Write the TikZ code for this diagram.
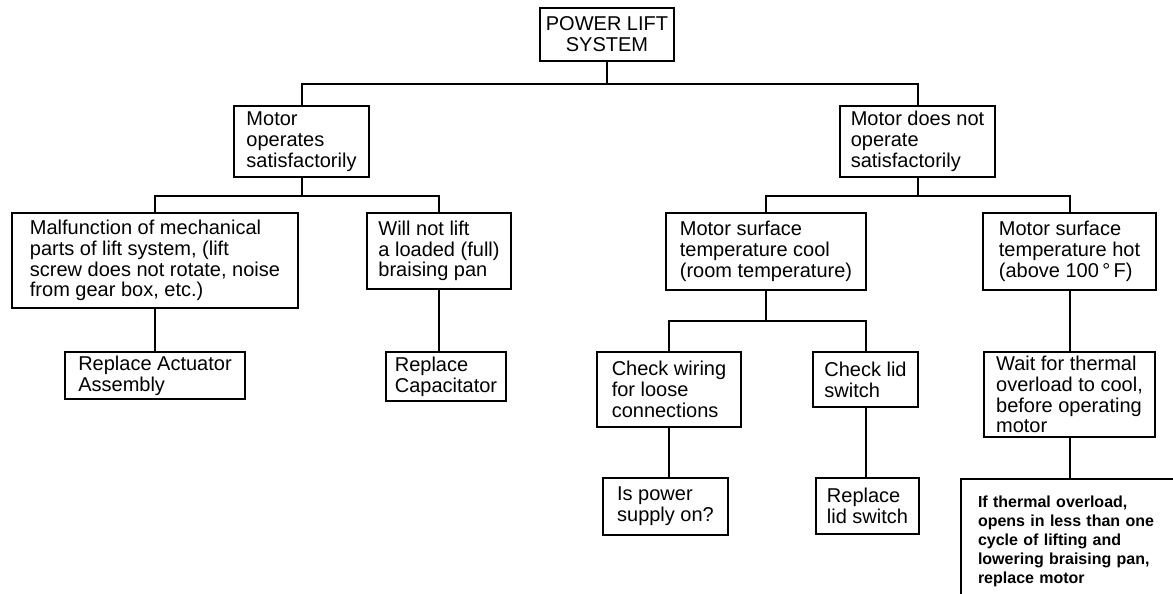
\documentclass[tikz,border=0pt]{standalone}
\usepackage{fontspec}
\setmainfont{Liberation Sans}
\begin{document}
\begin{tikzpicture}[x=1pt,y=-1pt,
  box/.style={draw,line width=2pt,align=left,inner sep=0pt,
    font=\fontsize{20}{20.8}\selectfont},
  note/.style={draw,line width=2pt,align=left,inner xsep=17pt,inner ysep=0pt,
    font=\fontsize{16}{19}\selectfont\bfseries},
  wire/.style={line width=2pt}]
% Page
\useasboundingbox (0,0) rectangle (1173,594);
\fill[white] (0,0) rectangle (1173,594);
\clip (0,0) rectangle (1173,594);

% Top level
\node[box,align=center,minimum width=134,minimum height=53] (sys) at (607,34.5) {POWER LIFT\\SYSTEM};
\node[box,minimum width=135,minimum height=71] (mok) at (301.5,141.5) {Motor\\operates\\satisfactorily};
\node[box,minimum width=155,minimum height=71] (mnok) at (917.5,141.5) {Motor does not\\operate\\satisfactorily};

% Second level
\node[box,minimum width=286,minimum height=95] (mech) at (155,260.5) {Malfunction of mechanical\\parts of lift system, (lift\\screw does not rotate, noise\\from gear box, etc.)};
\node[box,minimum width=144,minimum height=76] (nolift) at (439,251) {Will not lift\\a loaded (full)\\braising pan};
\node[box,minimum width=200,minimum height=77] (cool) at (766,251.5) {Motor surface\\temperature cool\\(room temperature)};
\node[box,minimum width=173,minimum height=77] (hot) at (1069.5,251.5) {Motor surface\\temperature hot\\(above 100\,°\,F)};

% Third level
\node[box,minimum width=180,minimum height=47] (actuator) at (155,375.5) {Replace Actuator\\Assembly};
\node[box,minimum width=120,minimum height=49] (capac) at (446,376.5) {Replace\\Capacitator};
\node[box,minimum width=144,minimum height=75] (wiring) at (669,389.5) {Check wiring\\for loose\\connections};
\node[box,minimum width=105,minimum height=55] (lid) at (865.5,379.5) {Check lid\\switch};
\node[box,minimum width=171,minimum height=85] (wait) at (1069.5,394.5) {Wait for thermal\\overload to cool,\\before operating\\motor};

% Bottom level
\node[box,minimum width=125,minimum height=57] (power) at (665.5,506.5) {Is power\\supply on?};
\node[box,minimum width=103,minimum height=56] (rlid) at (867.5,506) {Replace\\lid switch};
\node[note,text width=200,minimum height=124,anchor=north west] (ovl) at (960,478) {If thermal overload,\\opens in less than one\\cycle of lifting and\\lowering braising pan,\\replace motor};

% Connectors
\draw[wire] (sys.south) -- ++(0,22) -| (mok.north);
\draw[wire] (sys.south) -- ++(0,22) -| (mnok.north);
\draw[wire] (mok.south) -- ++(0,18) -| (mech.north);
\draw[wire] (mok.south) -- ++(0,18) -| (nolift.north);
\draw[wire] (mnok.south) -- ++(0,18) -| (cool.north);
\draw[wire] (mnok.south) -- ++(0,18) -| (hot.north);
\draw[wire] (mech.south) -- (actuator.north);
\draw[wire] (nolift.south) -- (nolift.south |- capac.north);
\draw[wire] (cool.south) -- ++(0,30) -| (wiring.north);
\draw[wire] (cool.south) -- ++(0,30) -| (lid.north);
\draw[wire] (hot.south) -- (wait.north);
\draw[wire] (wiring.south) -- (wiring.south |- power.north);
\draw[wire] (lid.south) -- (lid.south |- rlid.north);
\draw[wire] (wait.south) -- (wait.south |- ovl.north);
\end{tikzpicture}
\end{document}
